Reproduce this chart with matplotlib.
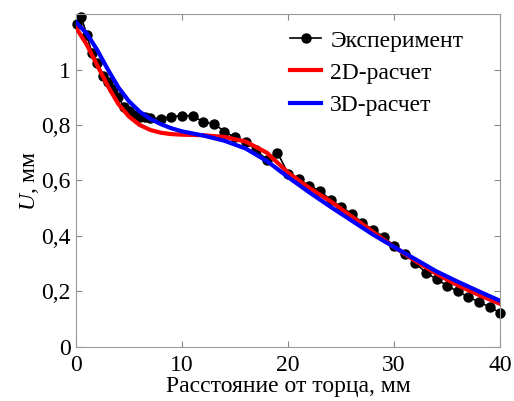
import matplotlib.pyplot as plt
from matplotlib.ticker import FuncFormatter

# experimental points
exp_x = [0.1, 0.5, 1.0, 1.5, 2.0, 2.5, 3.0, 3.5, 4.0, 4.5, 5.0, 5.5, 6.0, 6.5, 7.0, 8.0,
         9, 10, 11, 12, 13, 14, 15, 16, 17, 18, 19, 20, 21, 22, 23, 24, 25, 26, 27, 28,
         29, 30, 31, 32, 33, 34, 35, 36, 37, 38, 39, 40]
exp_y = [1.165, 1.19, 1.125, 1.06, 1.025, 0.975, 0.955, 0.928, 0.90, 0.866, 0.85, 0.835,
         0.83, 0.827, 0.825, 0.823, 0.83, 0.834, 0.834, 0.81, 0.805, 0.776, 0.755, 0.74,
         0.708, 0.675, 0.70, 0.625, 0.606, 0.58, 0.563, 0.53, 0.505, 0.48, 0.448, 0.422,
         0.397, 0.365, 0.336, 0.303, 0.267, 0.245, 0.22, 0.20, 0.18, 0.162, 0.144, 0.123]

# 2D calculation
calc2d_x = [0, 1, 2, 3, 4, 5, 6, 7, 8, 9, 10, 12, 14, 16, 18, 20, 22, 24, 26, 28, 30, 32, 34,
            36, 38, 40]
calc2d_y = [1.15, 1.09, 1.015, 0.94, 0.875, 0.83, 0.80, 0.782, 0.772, 0.767, 0.765, 0.763,
            0.757, 0.74, 0.70, 0.628, 0.573, 0.525, 0.47, 0.415, 0.36, 0.31, 0.263, 0.222,
            0.187, 0.155]

# 3D calculation
calc3d_x = [0, 1, 2, 3, 4, 5, 6, 7, 8, 9, 10, 12, 14, 16, 18, 20, 22, 24, 26, 28, 30, 32, 34,
            36, 38, 40]
calc3d_y = [1.17, 1.13, 1.07, 1.0, 0.935, 0.885, 0.848, 0.822, 0.803, 0.788, 0.777, 0.762,
            0.743, 0.715, 0.67, 0.612, 0.557, 0.505, 0.455, 0.405, 0.36, 0.316, 0.272,
            0.235, 0.2, 0.166]

x_ticks = [0, 10, 20, 30, 40]
y_ticks = [0, 0.2, 0.4, 0.6, 0.8, 1.0]

plt.rcParams['font.family'] = ['Liberation Serif', 'DejaVu Serif']
plt.rcParams['mathtext.fontset'] = 'custom'
plt.rcParams['mathtext.it'] = 'Liberation Serif:italic'
plt.rcParams['mathtext.rm'] = 'Liberation Serif'

fig = plt.figure(figsize=(5.14, 4.01), dpi=100)
ax = fig.add_axes([0.148, 0.135, 0.825, 0.83])

ax.plot(exp_x, exp_y, color='black', marker='o', markersize=6.5, linewidth=1.2,
        label='Эксперимент', zorder=2, clip_on=False)
ax.plot(calc2d_x, calc2d_y, color='red', linewidth=3, label='2D-расчет', zorder=3)
ax.plot(calc3d_x, calc3d_y, color='blue', linewidth=3, label='3D-расчет', zorder=4)

ax.set_xlim(0, 40)
ax.set_ylim(0, 1.2)
ax.set_xticks(x_ticks)
ax.set_yticks(y_ticks)


def comma_fmt(v, pos):
    s = f'{v:g}'
    return s.replace('.', ',')


ax.yaxis.set_major_formatter(FuncFormatter(comma_fmt))
ax.tick_params(direction='in', top=True, right=True, length=4, color='#888888',
               labelsize=17)
ax.tick_params(axis='x', pad=6)
ax.tick_params(axis='y', pad=4)
for sp in ax.spines.values():
    sp.set_color('#999999')

ax.set_xlabel('Расстояние от торца, мм', fontsize=17, labelpad=0)
ax.set_ylabel('$U$, мм', fontsize=17, labelpad=0)

ax.legend(loc='upper left', bbox_to_anchor=(0.505, 0.952), frameon=False, fontsize=17,
          handlelength=1.3, handletextpad=0.4, labelspacing=0.45, borderaxespad=0,
          borderpad=0)

fig.savefig('out.png', dpi=100)
